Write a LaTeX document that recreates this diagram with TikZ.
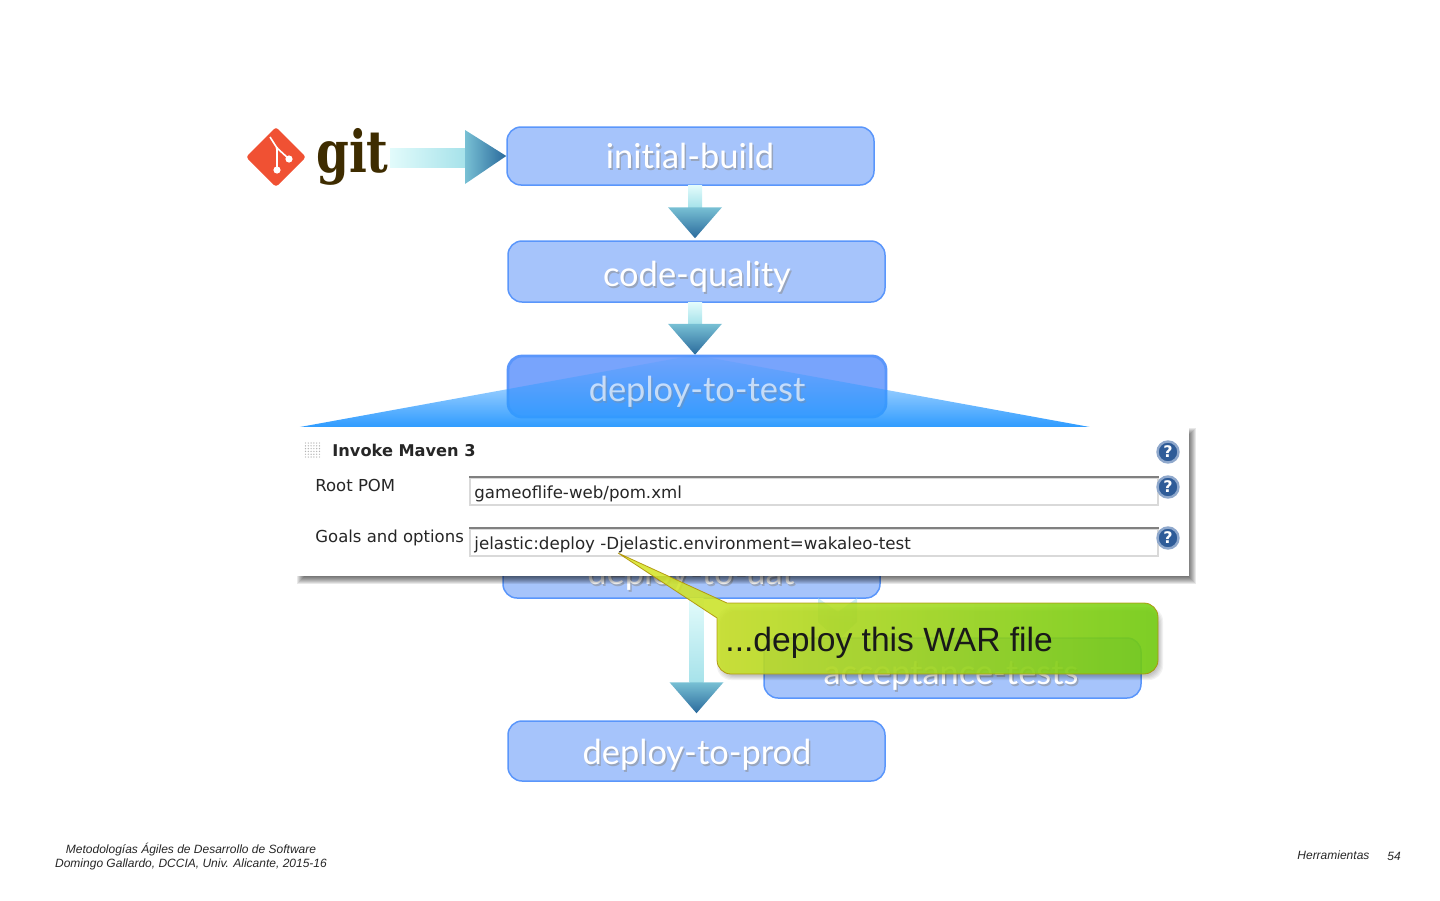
\documentclass[tikz,border=0pt]{standalone}
\usepackage{fontspec}
\setmainfont{Liberation Sans}
\newfontfamily\boxfont[Ligatures=NoCommon]{Lato}
\newfontfamily\gitfont{DejaVu Serif}
\newfontfamily\panelfont{DejaVu Sans}
\usetikzlibrary{calc,fadings}
\definecolor{boxfill}{HTML}{A6C4FB}
\definecolor{boxline}{HTML}{5A96FB}
\definecolor{testfill}{HTML}{78A4FC}
\definecolor{spotblue}{HTML}{2E9BFF}
\definecolor{gitred}{HTML}{F05133}
\definecolor{gitbrown}{HTML}{3E2C00}
\definecolor{arrowpale}{HTML}{E2FBFB}
\definecolor{arrowmid}{HTML}{A6E2EA}
\definecolor{arrowhead}{HTML}{78C0D4}
\definecolor{arrowdark}{HTML}{2A6A9C}
\definecolor{helpblue}{HTML}{2F5C98}
\definecolor{helpring}{HTML}{8FA8CC}
\definecolor{noteleft}{HTML}{DCE62C}
\definecolor{noteright}{HTML}{74D010}
\tikzfading[name=spotfade, top color=transparent!90, bottom color=transparent!0]
\tikzset{
  flowbox/.style={draw=boxline, fill=boxfill, line width=0.75pt, rounded corners=7pt, inner sep=0pt},
  flowtext/.style={font=\boxfont\fontsize{17.2}{17.2}\selectfont, text=white, inner sep=0pt, text height=13pt, text depth=4pt},
  flowshade/.style={flowtext, text=black!45, opacity=0.55},
  paneltext/.style={font=\panelfont\fontsize{8.25}{10}\selectfont, text=black!85, inner sep=0pt, anchor=base west},
  fieldbox/.style={fill=white, draw=black!15, line width=0.7pt},
  fieldtop/.style={draw=black!50, line width=0.9pt},
  helpicon/.style={circle, fill=helpblue, draw=helpring, line width=1.2pt, minimum size=10.5pt, inner sep=0pt, text=white, font=\panelfont\bfseries\fontsize{8}{8}\selectfont},
  footer/.style={font=\itshape\fontsize{6}{7}\selectfont, inner sep=0pt, text=black!85}
}
% box with a soft shadow under its label
\newcommand{\flowbox}[7][]{
  \node[flowbox, minimum width=#4*0.5pt, minimum height=#5*0.5pt, #1] (#2) at (#3) {};
  \node[flowshade] (#2shade) at ([shift={(1.5,2.5)}]#6) {#7};
  \node[flowtext] (#2label) at (#6) {#7};
}
% shaded arrow pointing down between two anchors
\newcommand{\flowdown}[2]{
  \shade[top color=arrowpale, bottom color=arrowmid] let \p1=(#1), \p2=(#2) in
    ({\x1-3.5pt},\y1) rectangle ({\x1+3.5pt},{\y2+15.5pt});
  \shade[top color=arrowhead, bottom color=arrowdark] let \p1=(#1), \p2=(#2) in
    ({\x1+13.5pt},{\y2+15.5pt}) -- (\x1,\y2) -- ({\x1-13.5pt},{\y2+15.5pt}) -- cycle;
}
\begin{document}
\begin{tikzpicture}[x=0.5pt,y=-0.5pt]
\useasboundingbox (0,0) rectangle (1440,900);

% git logo
\fill[gitred, rounded corners=1.5pt] (276,127) -- (306,157) -- (276,187) -- (246,157) -- cycle;
\draw[white, line width=0.8pt] (270,137) -- (277,148) -- (277,170);
\draw[white, line width=0.8pt] (277,148) -- (289,159);
\fill[white] (277,170) circle [radius=3.6];
\fill[white] (289,159) circle [radius=3.6];
\fill[white] (277,148) circle [radius=1.5];
\node[font=\gitfont\bfseries\fontsize{29}{29}\selectfont, text=gitbrown, inner sep=0pt, xscale=.81] (gitword) at (352.5,157) {git};

% boxes of the pipeline
\flowbox{build}{690.5,156}{367}{58}{690,159}{initial-build}
\flowbox{quality}{696.5,271.5}{377}{61}{697,277}{code-quality}
\flowbox{uat}{691.5,568}{377}{60}{691,575}{deploy-to-uat}
\flowbox{accept}{952.5,668}{377}{60}{951,675}{acceptance-tests}
\flowbox{prod}{696.5,751}{377}{60}{697,755}{deploy-to-prod}

% arrows
\coordinate (gitout) at (390,157.5);
\shade[left color=arrowpale, right color=arrowmid] (gitout) ++(0,-9.5) rectangle (465,167);
\shade[left color=arrowhead, right color=arrowdark] (465,130) -- (build.west) -- (465,184) -- cycle;
\flowdown{$(build.south)+(4.5,0)$}{$(quality.north)+(-1.5,-2)$}
\flowdown{$(quality.south)+(-1.5,0)$}{$(quality.south)+(-1.5,52)$}
\flowdown{uat.south -| prod.south}{$(prod.north)+(0,-7)$}
\shade[top color=arrowmid, bottom color=arrowhead, opacity=.55] (818,598) -- (838,612) -- (857,598) -- (857,622) -- (838,640) -- (818,622) -- cycle;

% zoomed box
\node[flowbox, fill=testfill, line width=1.4pt, minimum width=189pt, minimum height=30.5pt] (test) at (697,386.5) {};
\fill[spotblue, path fading=spotfade] (695,355) -- (1090,427) -- (300,427) -- cycle;
\node[flowshade, opacity=.35] (testshade) at (698.5,394.5) {deploy-to-test};
\node[flowtext, text=white, opacity=.65] (testlabel) at (697,392) {deploy-to-test};

% panel with its shadow
\foreach \s in {0,1,...,7}
  \fill[black, opacity=0.09] ({297+\s},{428+\s}) rectangle ({1196-\s},{584-\s});
\node[fill=white, minimum width=446pt, minimum height=74.5pt, inner sep=0pt] (panel) at (743,501.5) {};
\foreach \row in {0,1,...,5}
  \foreach \col in {0,1,...,5}
    \fill[black!30] ({305.5+\col*2.8},{443+\row*2.8}) circle [radius=.7];
\node[paneltext, font=\panelfont\bfseries\fontsize{8.1}{10}\selectfont] (mavenlabel) at (332,456) {Invoke Maven 3};
\node[paneltext] (pomlabel) at (315,491) {Root POM};
\node[paneltext] (goallabel) at (315,542) {Goals and options};
\node[fieldbox, minimum width=344pt, minimum height=13.5pt, inner sep=0pt] (pomfield) at (814,491.5) {};
\node[fieldbox, minimum width=344pt, minimum height=13.5pt, inner sep=0pt] (goalfield) at (814,542.5) {};
\draw[fieldtop] (pomfield.north west) -- (pomfield.north east);
\draw[fieldtop] (goalfield.north west) -- (goalfield.north east);
\node[paneltext, font=\panelfont\fontsize{8.32}{10}\selectfont] (pomtext) at (474,498) {gameoflife-web/pom.xml};
\node[paneltext, font=\panelfont\fontsize{8.35}{10}\selectfont] (goaltext) at (474,549.5) {jelastic:deploy -Djelastic.environment=wakaleo-test};
\node[helpicon] (helpmaven) at (1168,452) {?};
\node[helpicon] (helppom) at (1168,487) {?};
\node[helpicon] (helpgoal) at (1168,538) {?};

% note
\foreach \s in {0,1,...,4}
  \fill[black, opacity=0.05, rounded corners=7pt] ({717+\s},{607+\s}) rectangle ({1163-\s},{680-\s});
\shade[left color=noteleft, right color=noteright, draw=olive!70!orange, line width=0.4pt, opacity=.88]
  (618,553) -- (727,603) [rounded corners=7pt] -- (1158,603) -- (1158,674) -- (717,674) [sharp corners] -- (717,618) -- cycle;
\node[inner sep=0pt, font=\fontsize{16.8}{18}\selectfont, text=black!90, anchor=base west] (warnote) at (725,651) {...deploy this WAR file};

% footer
\node[footer, align=center] (course) at (191,857) {Metodologías Ágiles de Desarrollo de Software\\Domingo Gallardo, DCCIA, Univ. Alicante, 2015-16};
\node[footer, anchor=base west] (topic) at (1297,859) {Herramientas};
\node[footer, anchor=base west] (pagenum) at (1387,860) {54};
\end{tikzpicture}
\end{document}
